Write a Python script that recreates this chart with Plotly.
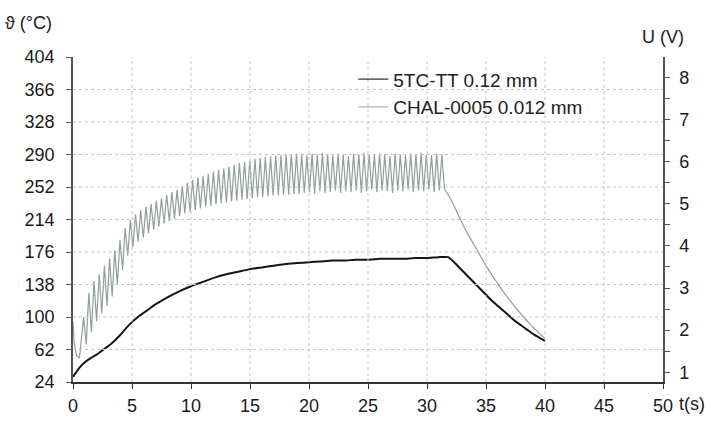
import plotly.graph_objects as go

# ---------------- data ----------------
# 5TC-TT 0.12 mm (black)
tc_t = [0, 0.5, 1, 1.5, 2, 2.5, 3, 3.5, 4, 4.5, 5, 5.5, 6, 6.5, 7, 7.5, 8, 9, 10, 11,
        12, 13, 14, 15, 16, 17, 18, 19, 20, 21, 22, 23, 24, 25, 26, 27, 28, 29, 30, 31,
        31.8, 32.3, 33.0, 33.5, 34.0, 34.5, 35.0, 35.5, 36.0, 36.5, 37.0, 37.5, 38.0, 38.5,
        39.0, 39.5, 40.0]
tc_v = [30, 40, 47, 52, 56, 61, 66, 72, 79, 87, 94, 100, 105, 110, 115, 119, 123, 130, 136, 141,
        146, 150, 153, 156, 158, 160, 162, 163, 164, 165, 166, 166, 167, 167, 168, 168, 168, 169, 169, 170,
        170, 164, 154, 147, 140, 133, 126, 119, 113, 107, 101, 95, 90, 85,
        80, 76, 72]

# CHAL-0005 0.012 mm (grey): start, peaks, troughs, cooling
ch_start_t = [0, 0.1, 0.3, 0.55]
ch_start_v = [95, 70, 55, 52]
peak_t = [0.90, 1.34, 1.78, 2.22, 2.66, 3.10, 3.54, 3.98, 4.42, 4.86,
          5.30, 5.74, 6.18, 6.62, 7.06, 7.50, 7.94, 8.38, 8.82, 9.26,
          9.70, 10.14, 10.58, 11.02, 11.46, 11.90, 12.34, 12.78, 13.22, 13.66,
          14.10, 14.54, 14.98, 15.42, 15.86, 16.30, 16.74, 17.18, 17.62, 18.06,
          18.50, 18.94, 19.38, 19.82, 20.26, 20.70, 21.14, 21.58, 22.02, 22.46,
          22.90, 23.34, 23.78, 24.22, 24.66, 25.10, 25.54, 25.98, 26.42, 26.86,
          27.30, 27.74, 28.18, 28.62, 29.06, 29.50, 29.94, 30.38, 30.82, 31.26]
peak_v = [100, 128, 142, 150, 160, 168, 178, 190, 204, 213,
          220, 225, 229, 232, 236, 239, 243, 246, 249, 253,
          257, 260, 263, 265, 267, 270, 272, 274, 276, 278,
          280, 281, 283, 285, 286, 287, 288, 289, 289, 290,
          290, 291, 290, 289, 291, 290, 292, 290, 289, 291,
          290, 288, 291, 290, 292, 290, 289, 291, 290, 288,
          291, 290, 289, 291, 290, 292, 290, 289, 291, 290]
trough_t = [1.12, 1.56, 2.00, 2.44, 2.88, 3.32, 3.76, 4.20, 4.64, 5.08,
            5.52, 5.96, 6.40, 6.84, 7.28, 7.72, 8.16, 8.60, 9.04, 9.48,
            9.92, 10.36, 10.80, 11.24, 11.68, 12.12, 12.56, 13.00, 13.44, 13.88,
            14.32, 14.76, 15.20, 15.64, 16.08, 16.52, 16.96, 17.40, 17.84, 18.28,
            18.72, 19.16, 19.60, 20.04, 20.48, 20.92, 21.36, 21.80, 22.24, 22.68,
            23.12, 23.56, 24.00, 24.44, 24.88, 25.32, 25.76, 26.20, 26.64, 27.08,
            27.52, 27.96, 28.40, 28.84, 29.28, 29.72, 30.16, 30.60, 31.04, 31.48]
trough_v = [68, 82, 95, 104, 113, 124, 138, 155, 172, 182,
            188, 193, 198, 202, 206, 209, 212, 215, 218, 221,
            223, 225, 227, 229, 230, 232, 233, 234, 235, 236,
            237, 238, 239, 240, 240, 241, 242, 242, 243, 243,
            244, 244, 245, 246, 244, 247, 245, 246, 248, 245,
            247, 246, 248, 245, 247, 249, 246, 248, 247, 245,
            248, 247, 249, 246, 248, 247, 249, 246, 248, 250]
cool_t = [31.48, 32.0, 32.5, 33.0, 33.5, 34.0, 34.5, 35.0, 35.5, 36.0, 36.5, 37.0, 37.5,
          38.0, 38.5, 39.0, 39.5, 40.0]
cool_v = [250, 238, 224, 209, 196, 184, 172, 160, 149, 139, 129, 120, 111,
          103, 95, 88, 81, 75]

x_ticks = [0, 5, 10, 15, 20, 25, 30, 35, 40, 45, 50]
y_ticks = [24, 62, 100, 138, 176, 214, 252, 290, 328, 366, 404]
u_ticks = [1, 2, 3, 4, 5, 6, 7, 8]

# assemble grey heating series in time order
ch_t = list(ch_start_t)
ch_v = list(ch_start_v)
for pt, pv, tt, tv in zip(peak_t, peak_v, trough_t, trough_v):
    ch_t += [pt, tt]
    ch_v += [pv, tv]

FONT = "Liberation Sans, Arial, sans-serif"
GREY = "#909f9b"
BLACK = "#151515"
GRID = "#c4c4c4"

fig = go.Figure()
fig.add_trace(go.Scatter(x=ch_t, y=ch_v, mode="lines", showlegend=False,
                         line=dict(color=GREY, width=1.2)))
fig.add_trace(go.Scatter(x=cool_t, y=cool_v, mode="lines", showlegend=False,
                         line=dict(color=GREY, width=1.2, shape="spline", smoothing=0.8)))
fig.add_trace(go.Scatter(x=tc_t, y=tc_v, mode="lines", showlegend=False,
                         line=dict(color=BLACK, width=2, shape="spline", smoothing=0.5)))
# legend entries
fig.add_trace(go.Scatter(x=[None], y=[None], mode="lines", name="5TC-TT 0.12 mm",
                         line=dict(color="#333333", width=1.2)))
fig.add_trace(go.Scatter(x=[None], y=[None], mode="lines", name="CHAL-0005 0.012 mm",
                         line=dict(color="#aab4b2", width=1.2)))
# anchor for the right-hand voltage axis
fig.add_trace(go.Scatter(x=[None], y=[None], yaxis="y2", showlegend=False,
                         hoverinfo="skip", mode="lines"))

# dotted grid drawn at the tick values (axis data coordinates)
for xv in x_ticks[1:-1]:
    fig.add_shape(type="line", xref="x", yref="paper", x0=xv, x1=xv, y0=0, y1=1,
                  line=dict(color=GRID, width=1, dash="dot"), layer="above")
for yv in y_ticks[1:-1]:
    fig.add_shape(type="line", xref="paper", yref="y", x0=0, x1=1, y0=yv, y1=yv,
                  line=dict(color=GRID, width=1, dash="dot"), layer="above")

fig.update_layout(
    width=711, height=428,
    margin=dict(l=73, r=48, t=57, b=40),
    paper_bgcolor="white", plot_bgcolor="rgba(0,0,0,0)",
    font=dict(family=FONT, size=18, color="#1a1a1a"),
    showlegend=True,
    legend=dict(x=0.475, y=0.99, xanchor="left", yanchor="top",
                bgcolor="rgba(0,0,0,0)", font=dict(size=19, color="#222"),
                tracegroupgap=0, itemwidth=30),
    xaxis=dict(range=[0, 50], tickmode="array", tickvals=x_ticks, showgrid=False,
               showline=True, linecolor="#333", linewidth=1.5,
               ticks="outside", ticklen=5, tickcolor="#333",
               zeroline=False, ticklabelstandoff=2),
    yaxis=dict(range=[24, 404], tickmode="array", tickvals=y_ticks, showgrid=False,
               showline=True, linecolor="#555", linewidth=1.5,
               ticks="outside", ticklen=5, tickcolor="#555",
               zeroline=False, ticklabelstandoff=8),
    yaxis2=dict(range=[0.767, 8.49], overlaying="y", side="right", anchor="x",
                tickmode="array", tickvals=u_ticks, showgrid=False, zeroline=False,
                showline=True, linecolor="#555", linewidth=1.5,
                ticks="outside", ticklen=5, tickcolor="#555",
                minor=dict(dtick=0.5, tick0=0.5, ticks="outside", ticklen=5,
                           tickcolor="#555", showgrid=False),
                ticklabelstandoff=6),
)

fig.add_annotation(text="ϑ (°C)", xref="paper", yref="paper", x=-0.118, y=1.105,
                   xanchor="left", yanchor="middle", showarrow=False,
                   font=dict(size=18, color="#1a1a1a"))
fig.add_annotation(text="U (V)", xref="paper", yref="paper", x=1.0, y=1.06,
                   xanchor="center", yanchor="middle", showarrow=False,
                   font=dict(size=18, color="#1a1a1a"))
fig.add_annotation(text="t(s)", xref="paper", yref="paper", x=1.023, y=-0.067,
                   xanchor="left", yanchor="middle", showarrow=False,
                   font=dict(size=18, color="#1a1a1a"))

fig.write_html("out.html")
